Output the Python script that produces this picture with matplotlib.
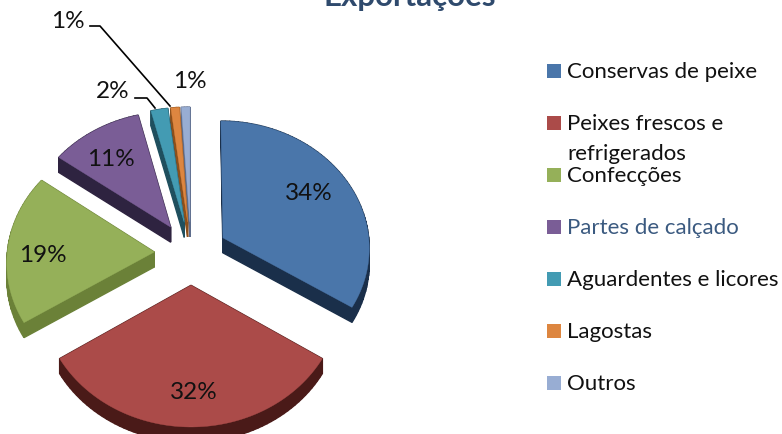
import numpy as np
from matplotlib import pyplot as plt
from matplotlib.patches import Polygon, Rectangle

# values
categories = ["Conservas de peixe", "Peixes frescos e\nrefrigerados", "Confecções",
              "Partes de calçado", "Aguardentes e licores", "Lagostas", "Outros"]
shares = [34, 32, 19, 11, 2, 1, 1]
pct_labels = ["34%", "32%", "19%", "11%", "2%", "1%", "1%"]
top_colors = ["#4a76aa", "#ab4b49", "#95b059", "#7a5d96", "#439bb3", "#dd8640", "#98add3"]
side_colors = ["#1a2f4a", "#4a1a18", "#6b8138", "#2e2340", "#1f4f5e", "#8c4f1a", "#5e6d8c"]
legend_text_colors = ["#111111", "#111111", "#111111", "#3b5a80", "#111111", "#111111", "#111111"]
label_pos = [(309, 194), (194, 393), (43, 256), (111, 160), (113, 92), (68, 21), (190, 82)]

# pie geometry, in pixels
cx, cy = 191, 254
rx, ry = 147, 127
persp = 0.07
explode = 0.25
depth = 15


def project(x, y):
    w = 1 + persp * y
    return cx + rx * x / w, cy - ry * y / w


def slice_outline(start, end):
    # clockwise from 12 o'clock, start and end in fractions of the pie
    mid = (start + end) / 2 * 2 * np.pi
    ox, oy = explode * np.sin(mid), explode * np.cos(mid)
    t = np.linspace(start, end, max(int((end - start) * 200), 4)) * 2 * np.pi
    xs = np.r_[ox, ox + np.sin(t)]
    ys = np.r_[oy, oy + np.cos(t)]
    return np.column_stack(project(xs, ys))


fig = plt.figure(figsize=(7.82, 4.35), dpi=100)
ax = fig.add_axes([0, 0, 1, 1])
ax.set_xlim(0, 782)
ax.set_ylim(435, 0)
ax.axis("off")
plt.rcParams["font.family"] = ["Lato", "DejaVu Sans"]

ends = np.cumsum(shares) / np.sum(shares)
starts = np.r_[0, ends[:-1]]

for i in np.argsort([-np.cos((s + e) * np.pi) for s, e in zip(starts, ends)]):
    pts = slice_outline(starts[i], ends[i])
    low = pts + [0, depth]
    # side walls first, then the top face
    for j in range(len(pts)):
        k = (j + 1) % len(pts)
        ax.add_patch(Polygon([pts[j], pts[k], low[k], low[j]], fc=side_colors[i], ec=side_colors[i], lw=1))
    ax.add_patch(Polygon(pts, fc=top_colors[i], ec=top_colors[i], lw=0.3))

for txt, (x, y) in zip(pct_labels, label_pos):
    ax.text(x, y, txt, fontsize=17.5, color="#111111", ha="center", va="center")

# leader lines
ax.plot([90, 100, 170], [27, 27, 107], color="black", lw=1.2)
ax.plot([135, 147, 155], [99, 99, 109], color="black", lw=1.2)

# legend
for i, cat in enumerate(categories):
    y = 72 + 52 * i
    ax.add_patch(Rectangle((547, y - 7), 14, 14, fc=top_colors[i], ec="none"))
    lines = cat.split("\n")
    ax.text(567, y, lines[0], fontsize=16, color=legend_text_colors[i], ha="left", va="center")
    if len(lines) > 1:
        ax.text(567, y + 30, lines[1], fontsize=16, color=legend_text_colors[i], ha="left", va="center")

ax.text(410, 6, "Exportações", fontsize=22.5, fontweight="bold", color="#2f4a6d", ha="center", va="baseline")

fig.savefig("out.png", dpi=100)
